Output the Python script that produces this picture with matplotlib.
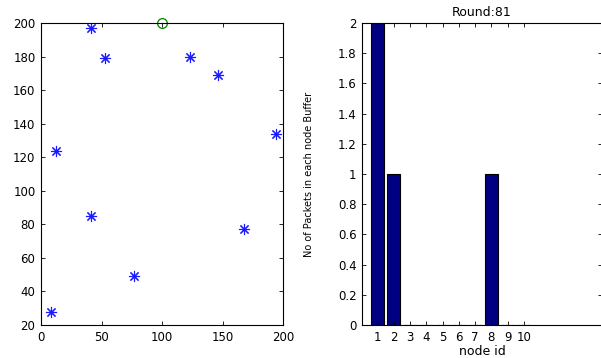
import matplotlib.pyplot as plt

# node positions (left panel)
node_x = [8, 12, 41, 41, 53, 77, 123, 146, 168, 194]
node_y = [28, 124, 197, 85, 179, 49, 180, 169, 77, 134]
sink_x = [100]
sink_y = [200]

# packets per node buffer (right panel)
node_ids = [1, 2, 3, 4, 5, 6, 7, 8, 9, 10]
packets = [2, 1, 0, 0, 0, 0, 0, 1, 0, 0]
round_no = 81

plt.rcParams['font.family'] = ['DejaVu Sans']
plt.rcParams['font.size'] = 8.5

fig = plt.figure(figsize=(6.01, 3.58), dpi=100)

# left panel: node field
ax1 = fig.add_axes([41 / 601, 1 - 325 / 358, 242 / 601, 302 / 358])
ax1.plot(node_x, node_y, linestyle='none', marker=(8, 2, 0), markersize=8,
         color='#1a1aff', markeredgewidth=0.8)
ax1.plot(sink_x, sink_y, linestyle='none', marker='o', markersize=7,
         markerfacecolor='none', markeredgecolor='#008000', markeredgewidth=0.9,
         clip_on=False)
ax1.set_xlim(0, 200)
ax1.set_ylim(20, 200)
ax1.set_xticks([0, 50, 100, 150, 200])
ax1.set_yticks(range(20, 201, 20))
ax1.tick_params(direction='in', top=True, right=True, length=3, width=0.6, pad=4)

# right panel: buffer occupancy
ax2 = fig.add_axes([362 / 601, 1 - 325 / 358, 240 / 601, 302 / 358])
ax2.bar(node_ids, packets, width=0.8, color='#000080', edgecolor='black', linewidth=0.8)
ax2.set_xlim(0.05, 14.8)
ax2.set_ylim(0, 2)
ax2.set_xticks(node_ids)
ax2.set_yticks([0, 0.2, 0.4, 0.6, 0.8, 1, 1.2, 1.4, 1.6, 1.8, 2])
ax2.set_yticklabels(['0', '0.2', '0.4', '0.6', '0.8', '1', '1.2', '1.4', '1.6', '1.8', '2'])
ax2.tick_params(direction='in', top=True, right=True, length=3, width=0.6, pad=4)
ax2.set_title('Round:%d' % round_no, fontsize=9, pad=5)
ax2.set_xlabel('node id', fontsize=9, labelpad=1)
ax2.set_ylabel('No of Packets in each node Buffer', fontsize=7)
ax2.yaxis.set_label_coords(-0.2, 0.5)

for ax in (ax1, ax2):
    for s in ax.spines.values():
        s.set_linewidth(0.8)

fig.savefig('out.png', dpi=100)
